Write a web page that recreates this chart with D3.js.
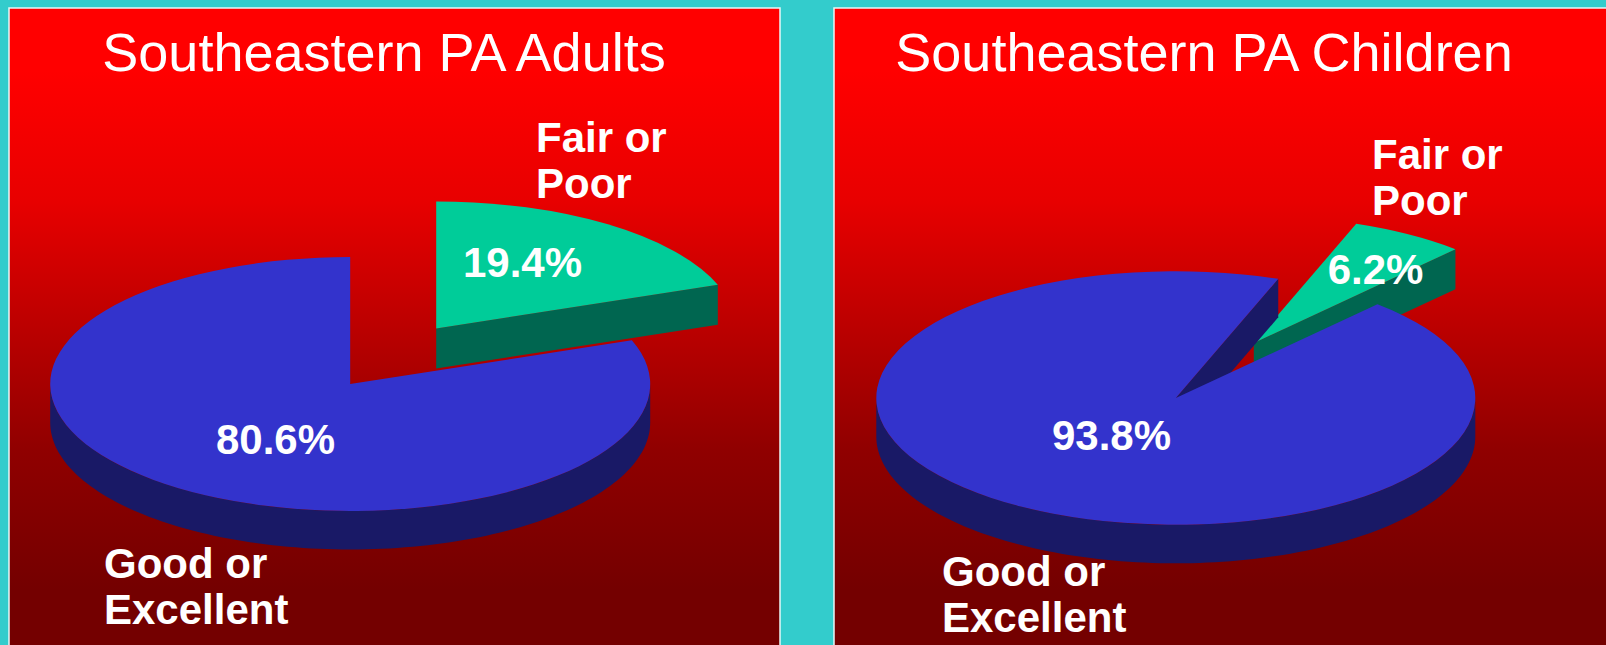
<!DOCTYPE html>
<html><head><meta charset="utf-8">
<script src="https://cdn.jsdelivr.net/npm/d3@7"></script>
<style>html,body{margin:0;padding:0;background:#33cccc;overflow:hidden}svg{display:block}
text{font-family:"Liberation Sans",Arial,sans-serif;fill:#fff}</style></head><body>
<svg id="c" width="1606" height="645"></svg>
<script>
const titles = ["Southeastern PA Adults", "Southeastern PA Children"];
const categories = ["Good or Excellent", "Fair or Poor"];
const adultValues = [80.6, 19.4];
const childValues = [93.8, 6.2];
const valueLabels = [["80.6%", "19.4%"], ["93.8%", "6.2%"]];
const gradientOffsets = [0, 0.25, 0.49, 0.73, 1];
const gradientColours = ["#ff0000", "#e80000", "#bc0000", "#900000", "#740000"];
const colours = {blue:"#3333cc", blueSide:"#191966", green:"#00cc99", greenSide:"#006650"};

const W = 1606, H = 645;
const svg = d3.select("#c");
const defs = svg.append("defs");
const grad = defs.append("linearGradient").attr("id","g").attr("gradientUnits","userSpaceOnUse")
  .attr("x1",0).attr("x2",0).attr("y1",70).attr("y2",590);
gradientOffsets.forEach((o,k)=>grad.append("stop").attr("offset",o).attr("stop-color",gradientColours[k]));

const panels = [
 {x:9, w:771, cx:350.2, cy:384, rx:300, ry:127, rot:0, ox:86, oy:-55.5, d:38.5, dg:40,
  values:adultValues, labels:valueLabels[0],
  title:[384,71], fair:[536,152], good:[104,578], v1:[275.5,454], v2:[522.5,277]},
 {x:834, w:780, cx:1175.8, cy:398, rx:299.5, ry:126.8, rot:20, ox:78, oy:-55, d:38.5, dg:40,
  values:childValues, labels:valueLabels[1],
  title:[1204,71], fair:[1372,169], good:[942,586], v1:[1111.5,450], v2:[1375.5,284]}
];

panels.forEach((p,i)=>{
  const g = svg.append("g");
  g.append("rect").attr("x",p.x).attr("y",8).attr("width",p.w).attr("height",H)
    .attr("fill","url(#g)").attr("stroke","#e8f8f8").attr("stroke-width",1.5);

  // pie layout: the smaller slice starts at the rotation angle, clockwise
  const rot = p.rot*Math.PI/180;
  const arcs = d3.pie().sort(null).startAngle(rot).endAngle(rot+2*Math.PI)
     (p.values.slice().reverse());
  const small = arcs[0], big = arcs[1];
  const sx = d3.scaleLinear().domain([0,1]).range([0,p.rx]);
  const sy = d3.scaleLinear().domain([0,1]).range([0,p.ry]);
  const pt = a => [sx(Math.sin(a)), -sy(Math.cos(a))];
  const face = (d,cx,cy)=>{
    const arc = d3.arc().innerRadius(0).outerRadius(p.rx);
    return {d:arc({startAngle:d.startAngle,endAngle:d.endAngle}),
      t:`translate(${cx},${cy}) scale(1,${p.ry/p.rx})`};
  };
  const line = d3.line();

  // green exploded slice: cut wall, then top
  const gx=p.cx+p.ox, gy=p.cy+p.oy;
  const e = pt(small.endAngle);
  g.append("path").attr("fill",colours.greenSide).attr("d",line([
    [gx,gy],[gx+e[0],gy+e[1]],[gx+e[0],gy+e[1]+p.dg],[gx,gy+p.dg]]));
  const gf = face(small,gx,gy);
  g.append("path").attr("fill",colours.green).attr("d",gf.d).attr("transform",gf.t);

  // blue slice: outer rim (front half), inner wall, then top
  const rim = d3.area()
    .x(a=>p.cx+pt(a)[0]).y0(a=>p.cy+pt(a)[1]).y1(a=>p.cy+pt(a)[1]+p.d);
  const lo=Math.PI/2, hi=3*Math.PI/2;
  g.append("path").attr("fill",colours.blueSide)
    .attr("d",rim(d3.range(0,121).map(k=>lo+(hi-lo)*k/120)));
  if(p.rot>0){
    const s = pt(rot);
    g.append("path").attr("fill",colours.blueSide).attr("d",line([
      [p.cx,p.cy],[p.cx+s[0],p.cy+s[1]],[p.cx+s[0],p.cy+s[1]+p.d],[p.cx,p.cy+p.d]]));
  }
  const bf = face(big,p.cx,p.cy);
  g.append("path").attr("fill",colours.blue).attr("d",bf.d).attr("transform",bf.t);

  // text
  g.append("text").attr("x",p.title[0]).attr("y",p.title[1]).attr("text-anchor","middle")
    .attr("font-size",54).text(titles[i]);
  const multi=(pos,lines)=>lines.forEach((s,k)=>g.append("text").attr("x",pos[0]).attr("y",pos[1]+k*46)
    .attr("font-size",42).attr("font-weight","bold").text(s));
  multi(p.good,["Good or","Excellent"]);
  multi(p.fair,["Fair or","Poor"]);
  [[p.v1,p.labels[0]],[p.v2,p.labels[1]]].forEach(([c,s])=>g.append("text").attr("x",c[0]).attr("y",c[1])
    .attr("text-anchor","middle").attr("font-size",42).attr("font-weight","bold").text(s));
});
svg.attr("role","img").attr("aria-label",categories.join(", "));
</script></body></html>
